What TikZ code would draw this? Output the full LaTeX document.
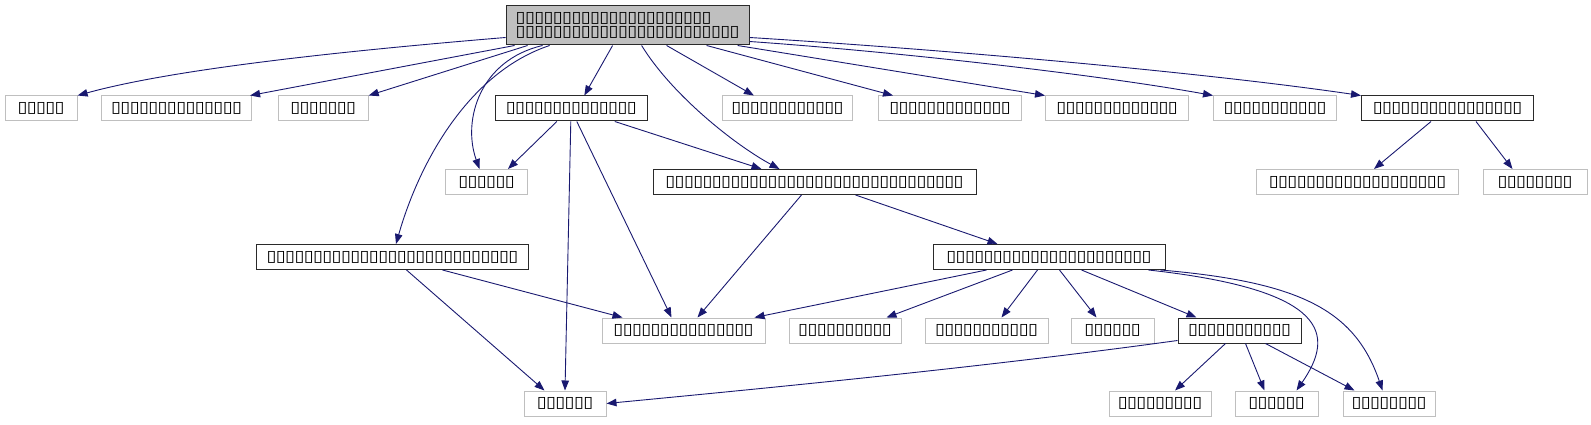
\documentclass[tikz,border=0pt]{standalone}
\usepackage{fontspec}
\usepackage{graphicx}
\newfontfamily\tofufont{DejaVu Sans}
\usetikzlibrary{arrows.meta,calc}
\definecolor{edgec}{HTML}{191970}
\definecolor{gborder}{HTML}{BFBFBF}
\definecolor{rootfill}{HTML}{BFBFBF}
\definecolor{bborder}{HTML}{2A2A2A}
\newcommand\tofu[1]{\foreach \k in {1,...,#1}{\makebox[9.3pt]{\tofufont\fontsize{12}{14}\selectfont\scalebox{1.5}[1.3]{▯}}}}
\tikzset{
  gnode/.style={draw=gborder, line width=1pt, minimum height=25pt, inner sep=0pt, fill=white},
  bnode/.style={draw=bborder, line width=1pt, minimum height=25pt, inner sep=0pt, fill=white},
  rootst/.style={draw=bborder, line width=1pt, fill=rootfill, inner sep=0pt, align=left, minimum width=243pt, minimum height=39pt, font=\fontsize{12}{14}\selectfont},
  conn/.style={draw=edgec, line width=0.9pt, -{Triangle[length=10pt,width=7.5pt]}}
}
\begin{document}
\begin{tikzpicture}[x=1pt,y=-1pt]
\useasboundingbox (0,0) rectangle (1591,425);
% root
\node[rootst] (root) at (627.6,25.5) {\tofu{21}\\\tofu{24}};
% row 1
\node[gnode, minimum width=72pt]  (n1) at (41.1,108.5) {\tofu{5}};
\node[gnode, minimum width=150pt] (n2) at (176.6,108.5) {\tofu{14}};
\node[gnode, minimum width=90pt]  (n3) at (323.2,108.5) {\tofu{7}};
\node[bnode, minimum width=152pt] (B)  at (571.3,108.5) {\tofu{14}};
\node[gnode, minimum width=130pt] (n5) at (787.4,108.5) {\tofu{12}};
\node[gnode, minimum width=143pt] (n6) at (950,108.5) {\tofu{13}};
\node[gnode, minimum width=143pt] (n7) at (1117,108.5) {\tofu{13}};
\node[gnode, minimum width=123pt] (n8) at (1275,108.5) {\tofu{11}};
\node[bnode, minimum width=172pt] (n9) at (1447.5,108.5) {\tofu{16}};
% row 2
\node[gnode, minimum width=82pt]  (n10) at (486.5,182) {\tofu{6}};
\node[bnode, minimum width=323pt] (C)   at (814.5,182) {\tofu{32}};
\node[gnode, minimum width=202pt] (n11) at (1357.5,182) {\tofu{19}};
\node[gnode, minimum width=104pt] (n12) at (1535,182) {\tofu{8}};
% row 3
\node[bnode, minimum width=272pt] (D) at (392.5,257) {\tofu{27}};
\node[bnode, minimum width=232pt] (E) at (1049,257) {\tofu{22}};
% row 4
\node[gnode, minimum width=163pt] (F) at (683.5,330.5) {\tofu{15}};
\node[gnode, minimum width=112pt] (G) at (845,330.5) {\tofu{10}};
\node[gnode, minimum width=123pt] (H) at (986.5,330.5) {\tofu{11}};
\node[gnode, minimum width=83pt]  (I) at (1112.5,330.5) {\tofu{6}};
\node[bnode, minimum width=123pt] (J) at (1239.5,330.5) {\tofu{11}};
% row 5
\node[gnode, minimum width=82pt]  (K) at (565,403.5) {\tofu{6}};
\node[gnode, minimum width=102pt] (L) at (1160,403.5) {\tofu{9}};
\node[gnode, minimum width=83pt]  (M) at (1276.5,403.5) {\tofu{6}};
\node[gnode, minimum width=92pt]  (N) at (1389,403.5) {\tofu{8}};
% edges from root
\draw[conn] ($(root.south west)+(0,-8)$) .. controls (330,52) and (170,70) .. (n1.north east);
\draw[conn] ($(root.south west)+(9,0)$) -- ($(n2.north east)+(-2,0)$);
\draw[conn] ($(root.south west)+(22,0)$) -- (n3.north east);
\draw[conn] ($(root.south west)+(37,0)$) .. controls (480,60) and (462,120) .. ($(n10.north)+(-7,0)$);
\draw[conn] ($(root.south west)+(44,0)$) .. controls (470,72) and (420,160) .. ($(D.north)+(3.5,0)$);
\draw[conn] ($(root.south west)+(107,0)$) -- ($(B.north)+(13,0)$);
\draw[conn] ($(root.south west)+(136,0)$) .. controls (672,95) and (735,145) .. ($(C.north west)+(127,0)$);
\draw[conn] ($(root.south west)+(161,0)$) -- ($(n5.north west)+(32,0)$);
\draw[conn] ($(root.south west)+(201,0)$) -- ($(n6.north west)+(15,0)$);
\draw[conn] ($(root.south east)+(-12,0)$) -- (n7.north west);
\draw[conn] ($(root.south east)+(0,-4)$) .. controls (900,52) and (1100,75) .. (n8.north west);
\draw[conn] ($(root.south east)+(0,-8)$) .. controls (950,50) and (1200,72) .. (n9.north west);
% edges from B
\draw[conn] ($(B.south west)+(62,0)$) -- ($(n10.north)+(21.5,0)$);
\draw[conn] ($(B.south west)+(120,0)$) -- ($(C.north west)+(109,0)$);
\draw[conn] ($(B.south west)+(76,0)$) -- (K.north);
\draw[conn] ($(B.south west)+(82,0)$) -- ($(F.north west)+(70,0)$);
% edges from n9
\draw[conn] ($(n9.south west)+(70,0)$) -- ($(n11.north west)+(118,0)$);
\draw[conn] ($(n9.south west)+(115,0)$) -- ($(n12.north west)+(30,0)$);
% edges from C
\draw[conn] ($(C.south west)+(149,0)$) -- ($(F.north west)+(96,0)$);
\draw[conn] ($(C.south west)+(203,0)$) -- ($(E.north west)+(65,0)$);
% edges from D
\draw[conn] ($(D.south west)+(150.5,0)$) -- ($(K.north west)+(21,0)$);
\draw[conn] ($(D.south west)+(186.5,0)$) -- ($(F.north west)+(21,0)$);
% edges from E
\draw[conn] ($(E.south west)+(54,0)$) -- ($(F.north west)+(153,0)$);
\draw[conn] ($(E.south west)+(80,0)$) -- ($(G.north west)+(98,0)$);
\draw[conn] ($(E.south west)+(105,0)$) -- ($(H.north west)+(77,0)$);
\draw[conn] ($(E.south west)+(127,0)$) -- ($(I.north west)+(26,0)$);
\draw[conn] ($(E.south west)+(149,0)$) -- ($(J.north west)+(19,0)$);
\draw[conn] ($(E.south east)+(-17,0)$) .. controls (1330,290) and (1335,335) .. ($(M.north)+(20,0)$);
\draw[conn] ($(E.south east)+(-5,0)$) .. controls (1300,282) and (1355,310) .. ($(N.north west)+(40,0)$);
% edges from J
\draw[conn] ($(J.south west)+(0,-3)$) .. controls (1000,365) and (800,385) .. (K.east);
\draw[conn] ($(J.south west)+(48,0)$) -- ($(L.north)+(15,0)$);
\draw[conn] ($(J.south west)+(68,0)$) -- ($(M.north west)+(30,0)$);
\draw[conn] ($(J.south west)+(88,0)$) -- ($(N.north west)+(12,0)$);
\end{tikzpicture}
\end{document}
